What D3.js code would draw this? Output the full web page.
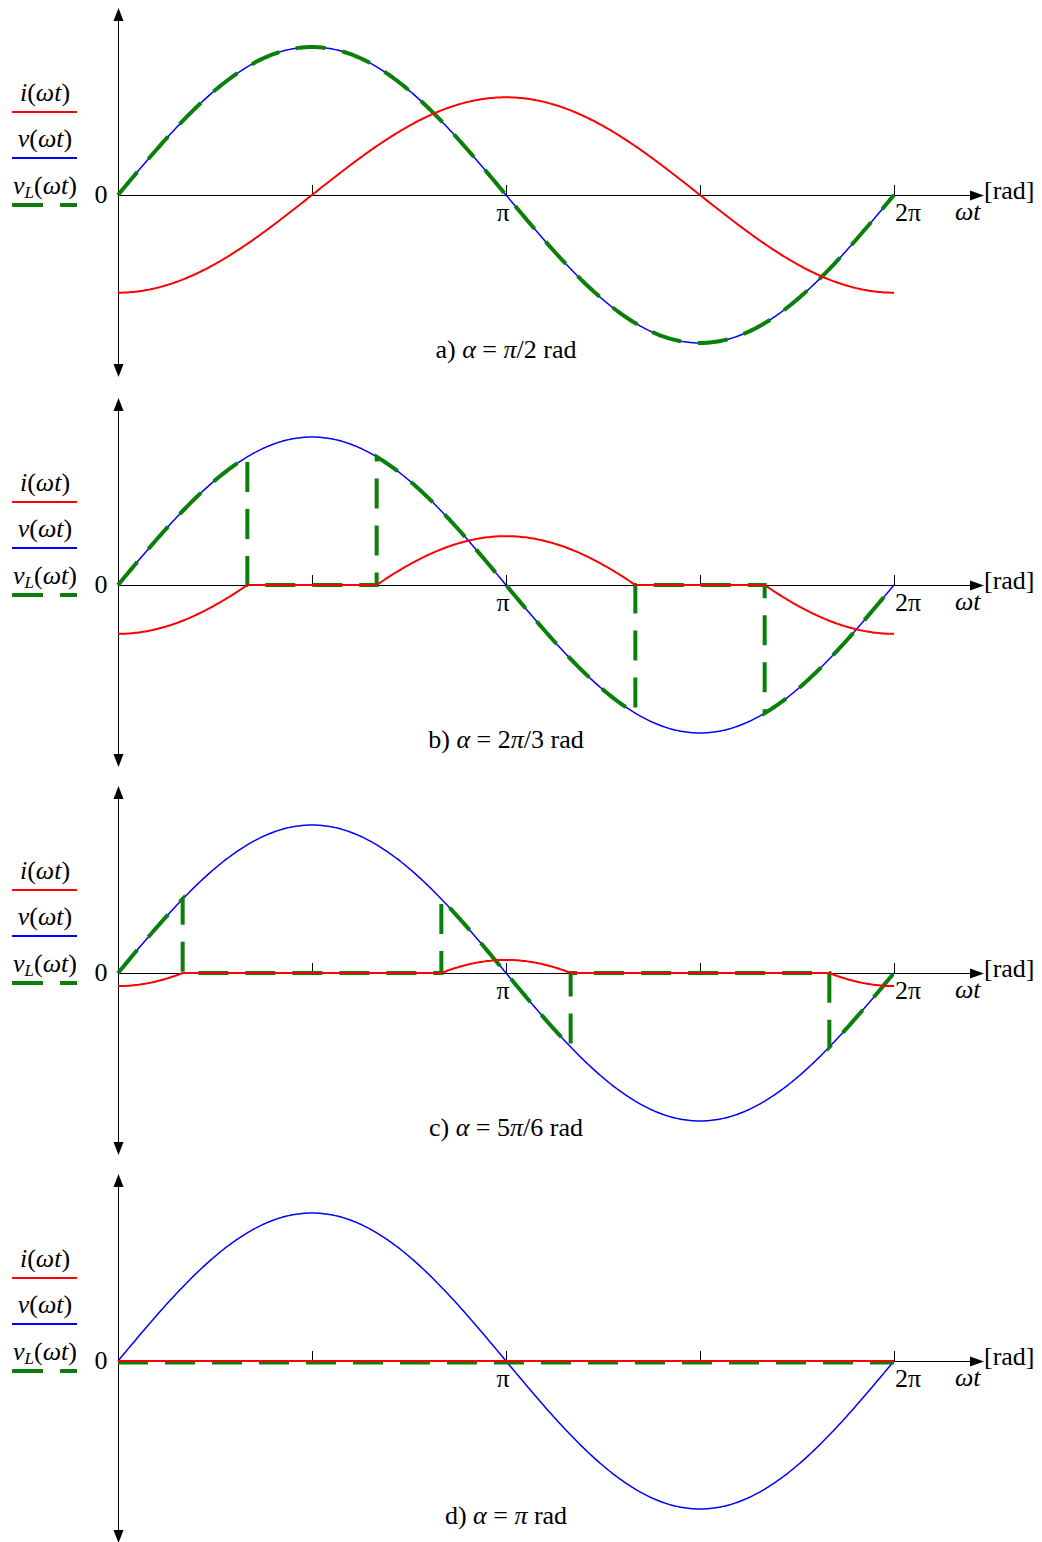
<!DOCTYPE html>
<html><head><meta charset="utf-8">
<script src="https://cdn.jsdelivr.net/npm/d3@7"></script>
<style>body{margin:0;background:#fff}</style>
</head><body>
<svg id="c" width="1042" height="1542"></svg>
<script>
// ---- data ----
const panelLetters = ["a)", "b)", "c)", "d)"];
const alphaLabels = ["π/2", "2π/3", "5π/6", "π"];
const alphaValues = [Math.PI/2, 2*Math.PI/3, 5*Math.PI/6, Math.PI];
const voltageAmplitude = 1.0;     // normalised Vm
const currentAmplitude = 0.66;    // Vm/ωL relative to Vm
const tickValues = [Math.PI/2, Math.PI, 3*Math.PI/2, 2*Math.PI];
const tickLabels = ["", "π", "", "2π"];
const legendItems = ["i", "v", "vL"];
const zeroLines = [195, 585, 973, 1361];

const svg = d3.select("#c");
const FONT = "'Liberation Serif','Times New Roman',serif";
const FS = 26;
const x = d3.scaleLinear().domain([0, 2*Math.PI]).range([118, 894]);
const N = 400;

function curPoint(th, a) {
  const Im = currentAmplitude;
  if (th >= a && th <= 2*Math.PI - a) return Im*(Math.cos(a) - Math.cos(th));
  if (th >= Math.PI + a || th <= Math.PI - a) return -Im*(Math.cos(a) + Math.cos(th));
  return 0;
}
function sampleRange(t0, t1, f) {
  const pts = [];
  const n = Math.max(2, Math.ceil((t1 - t0)/(2*Math.PI)*N));
  for (let k = 0; k <= n; k++) { const t = t0 + (t1 - t0)*k/n; pts.push([t, f(t)]); }
  return pts;
}

zeroLines.forEach((y0, p) => {
  const a = alphaValues[p];
  const y = d3.scaleLinear().domain([-1, 1]).range([y0 + 148, y0 - 148]);
  const g = svg.append("g");
  const line = d3.line().x(d => x(d[0])).y(d => y(d[1]));
  const ax = x(0) + 0.5, ay = y0 + 0.5;

  // axes
  g.append("line").attr("x1", x(0)).attr("x2", 972).attr("y1", ay).attr("y2", ay)
    .attr("stroke", "#000").attr("stroke-width", 1);
  g.append("path").attr("d", `M984,${ay} L970,${ay-5} L970,${ay+5} Z`).attr("fill", "#000");
  const yTop = y0 - 187, yBot = y0 + 182;
  g.append("line").attr("x1", ax).attr("x2", ax).attr("y1", yTop + 10).attr("y2", yBot - 10)
    .attr("stroke", "#000").attr("stroke-width", 1);
  g.append("path").attr("d", `M${ax},${yTop} L${ax-5},${yTop+13} L${ax+5},${yTop+13} Z`).attr("fill", "#000");
  g.append("path").attr("d", `M${ax},${yBot} L${ax-5},${yBot-13} L${ax+5},${yBot-13} Z`).attr("fill", "#000");
  tickValues.forEach((t, i) => {
    const tx = Math.round(x(t)) + 0.5;
    g.append("line").attr("x1", tx).attr("x2", tx).attr("y1", y0 - 10).attr("y2", y0)
      .attr("stroke", "#000").attr("stroke-width", 1);
    if (tickLabels[i]) g.append("text").attr("x", x(t) + (i === 3 ? 14 : -3)).attr("y", y0 + 26)
      .attr("text-anchor", "middle").attr("font-family", FONT).attr("font-size", FS).text(tickLabels[i]);
  });
  g.append("text").attr("x", 101).attr("y", y0 + 8).attr("text-anchor", "middle")
    .attr("font-family", FONT).attr("font-size", FS).text("0");
  g.append("text").attr("x", 984).attr("y", y0 + 4).attr("font-family", FONT).attr("font-size", FS).text("[rad]");
  g.append("text").attr("x", 955).attr("y", y0 + 25).attr("font-family", FONT).attr("font-size", FS)
    .attr("font-style", "italic").text("ωt");

  // voltage
  g.append("path").attr("d", line(sampleRange(0, 2*Math.PI, t => voltageAmplitude*Math.sin(t))))
    .attr("fill", "none").attr("stroke", "#0000ff").attr("stroke-width", 1.5);

  // load voltage (piecewise, with vertical jumps)
  const bps = [0, Math.PI - a, a, 2*Math.PI - a, Math.PI + a, 2*Math.PI].sort((m, n) => m - n);
  let vl = [];
  for (let k = 0; k < bps.length - 1; k++) {
    const t0 = bps[k], t1 = bps[k+1];
    if (t1 - t0 < 1e-9) continue;
    const mid = (t0 + t1)/2;
    const on = curPoint(mid, a) !== 0;
    vl = vl.concat(sampleRange(t0, t1, t => on ? voltageAmplitude*Math.sin(t) : 0));
  }
  g.append("path").attr("d", line(vl)).attr("transform", p === 3 ? "translate(0,1.5)" : null)
    .attr("fill", "none").attr("stroke", "#0a800a").attr("stroke-width", 4)
    .attr("stroke-dasharray", "30,17");

  // current
  g.append("path").attr("d", line(sampleRange(0, 2*Math.PI, t => curPoint(t, a))))
    .attr("fill", "none").attr("stroke", "#ff0000").attr("stroke-width", 2);

  // legend
  const legColors = ["#ff0000", "#0000ff", "#0a800a"];
  const legLineY = [y0 - 83, y0 - 37, y0 + 10];
  legendItems.forEach((nm, i) => {
    const tx = g.append("text").attr("x", 45).attr("y", legLineY[i] - 11).attr("text-anchor", "middle")
      .attr("font-family", FONT).attr("font-size", FS);
    if (nm === "vL") {
      tx.append("tspan").attr("font-style", "italic").text("v");
      tx.append("tspan").attr("font-style", "italic").attr("font-size", 17).attr("dy", 4).text("L");
      tx.append("tspan").attr("dy", -4).text("(");
    } else {
      tx.append("tspan").attr("font-style", "italic").text(nm);
      tx.append("tspan").text("(");
    }
    tx.append("tspan").attr("font-style", "italic").text("ωt");
    tx.append("tspan").text(")");
    g.append("line").attr("x1", 12).attr("x2", 77).attr("y1", legLineY[i]).attr("y2", legLineY[i])
      .attr("stroke", legColors[i]).attr("stroke-width", i === 2 ? 4 : 2)
      .attr("stroke-dasharray", i === 2 ? "31,17" : null);
  });

  // caption
  const cap = g.append("text").attr("x", 506).attr("y", y0 + 163).attr("text-anchor", "middle")
    .attr("font-family", FONT).attr("font-size", FS);
  cap.append("tspan").text(panelLetters[p] + " ");
  cap.append("tspan").attr("font-style", "italic").text("α");
  cap.append("tspan").text(" = ");
  alphaLabels[p].split("").forEach(ch => {
    cap.append("tspan").attr("font-style", ch === "π" ? "italic" : null).text(ch);
  });
  cap.append("tspan").text(" rad");
});
</script>
</body></html>
